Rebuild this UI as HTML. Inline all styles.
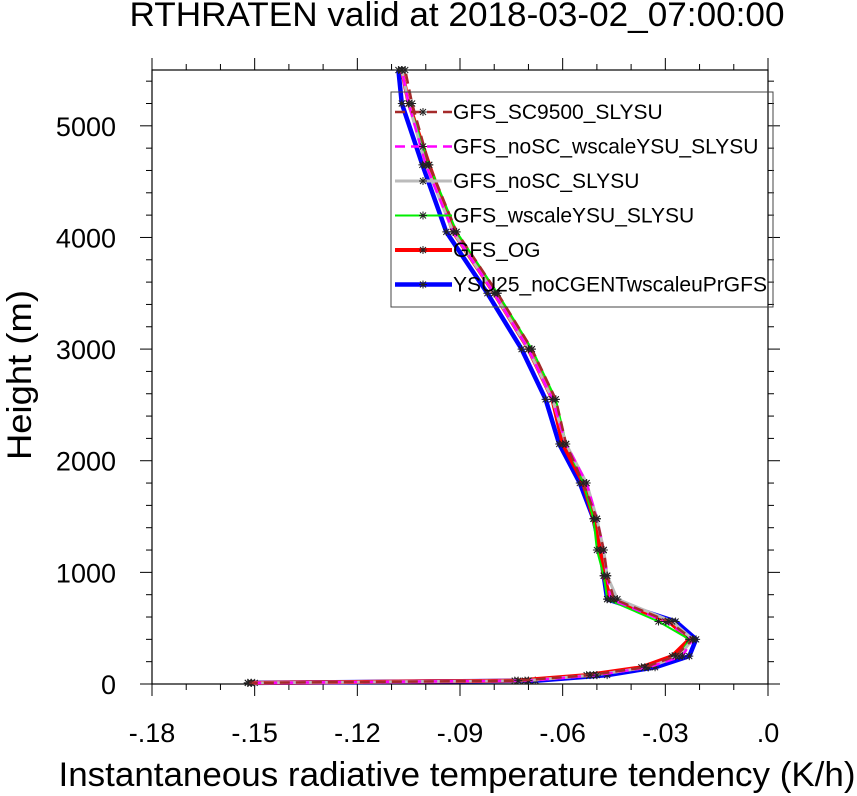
<!DOCTYPE html>
<html><head><meta charset="utf-8"><style>
body{margin:0;background:#fff;}
svg{display:block;font-family:"Liberation Sans",sans-serif;}
</style></head><body>
<svg id="chart" width="857" height="796" viewBox="0 0 857 796">
<text x="457" y="26" font-size="34" text-anchor="middle" textLength="655" lengthAdjust="spacingAndGlyphs">RTHRATEN valid at 2018-03-02_07:00:00</text>
<text x="457" y="786" font-size="34" text-anchor="middle" textLength="797" lengthAdjust="spacingAndGlyphs">Instantaneous radiative temperature tendency (K/h)</text>
<text transform="translate(31,375) rotate(-90)" font-size="34" text-anchor="middle" textLength="170" lengthAdjust="spacingAndGlyphs">Height (m)</text>
<g id="axes"></g>
<g id="series"></g>
<g id="legend"></g>
</svg>
<script>
const heights=[10,30,80,150,250,400,560,760,970,1200,1480,1800,2150,2550,3000,3500,4050,4650,5200,5500];
const xTicks=[-0.18,-0.15,-0.12,-0.09,-0.06,-0.03,0];
const xTickLabels=["-.18","-.15","-.12","-.09","-.06","-.03",".0"];
const yTicks=[0,1000,2000,3000,4000,5000];
const yTickLabels=["0","1000","2000","3000","4000","5000"];
const seriesNames=["YSU25_noCGENTwscaleuPrGFS","GFS_OG","GFS_wscaleYSU_SLYSU","GFS_noSC_SLYSU","GFS_noSC_wscaleYSU_SLYSU","GFS_SC9500_SLYSU"];
const sBlue=[-0.150,-0.068,-0.047,-0.033,-0.023,-0.021,-0.027,-0.047,-0.048,-0.049,-0.051,-0.055,-0.061,-0.065,-0.072,-0.082,-0.094,-0.101,-0.107,-0.108];
const sRed=[-0.152,-0.074,-0.053,-0.037,-0.028,-0.023,-0.029,-0.046,-0.048,-0.049,-0.051,-0.054,-0.060,-0.063,-0.070,-0.080,-0.092,-0.099,-0.105,-0.107];
const sGreen=[-0.151,-0.070,-0.050,-0.035,-0.026,-0.023,-0.032,-0.047,-0.048,-0.050,-0.051,-0.054,-0.059,-0.062,-0.069,-0.079,-0.091,-0.099,-0.105,-0.107];
const sGray=[-0.151,-0.071,-0.051,-0.035,-0.026,-0.022,-0.028,-0.044,-0.047,-0.048,-0.050,-0.053,-0.059,-0.063,-0.070,-0.080,-0.092,-0.100,-0.105,-0.107];
const sMagenta=[-0.151,-0.070,-0.050,-0.035,-0.025,-0.022,-0.030,-0.046,-0.047,-0.048,-0.050,-0.053,-0.059,-0.063,-0.070,-0.080,-0.092,-0.100,-0.105,-0.107];
const sBrown=[-0.152,-0.073,-0.052,-0.036,-0.027,-0.022,-0.029,-0.045,-0.047,-0.048,-0.050,-0.054,-0.059,-0.062,-0.069,-0.079,-0.091,-0.099,-0.104,-0.106];
const allSeries=[sBlue,sRed,sGreen,sGray,sMagenta,sBrown];
const styles=[{c:"#0000ff",w:4.5,d:""},{c:"#ff0000",w:4,d:""},{c:"#00ee00",w:2,d:""},{c:"#bbbbbb",w:3,d:""},{c:"#ff00ff",w:2.5,d:"10,6"},{c:"#a52a2a",w:2.5,d:"10,6"}];
const X0=152,X1=768,Y0=684,Y1=70,xmin=-0.18,xmax=0,ymin=0,ymax=5500;
const sx=v=>X0+(v-xmin)/(xmax-xmin)*(X1-X0);
const sy=v=>Y0-(v-ymin)/(ymax-ymin)*(Y0-Y1);
const NS="http://www.w3.org/2000/svg";
function mk(t,a,p){const e=document.createElementNS(NS,t);for(const k in a)e.setAttribute(k,a[k]);p.appendChild(e);return e;}
const ax=document.getElementById("axes");
const fr=mk("rect",{x:X0,y:Y1,width:X1-X0,height:Y0-Y1,fill:"none",stroke:"#000","stroke-width":1.2},ax);


for(let v=-0.18;v<=0.0001;v+=0.01){const x=sx(v);const maj=Math.abs(Math.round(v*100)%3)===0;const L=maj?12:6;
mk("line",{x1:x,y1:Y0,x2:x,y2:Y0+L,stroke:"#000"},ax);mk("line",{x1:x,y1:Y1,x2:x,y2:Y1-L,stroke:"#000"},ax);}
for(let v=0;v<=5500;v+=200){const y=sy(v);const maj=v%1000===0;const L=maj?12:6;
mk("line",{x1:X0,y1:y,x2:X0-L,y2:y,stroke:"#000"},ax);mk("line",{x1:X1,y1:y,x2:X1+L,y2:y,stroke:"#000"},ax);}
xTicks.forEach((v,i)=>{const t=mk("text",{x:sx(v),y:Y0+58,"font-size":27,"text-anchor":"middle"},ax);t.textContent=xTickLabels[i];

});
yTicks.forEach((v,i)=>{const t=mk("text",{x:X0-36,y:sy(v)+10,"font-size":27,"text-anchor":"end"},ax);t.textContent=yTickLabels[i];

});
const sg=document.getElementById("series");
function star(g,x,y){const r=4;mk("path",{d:`M${x-r},${y}H${x+r}M${x},${y-r}V${y+r}M${x-3},${y-3}L${x+3},${y+3}M${x-3},${y+3}L${x+3},${y-3}`,stroke:"#222","stroke-width":1},g);}
allSeries.forEach((s,i)=>{const st=styles[i];
const g=mk("g",{},sg);


const pts=s.map((v,j)=>sx(v).toFixed(1)+","+sy(heights[j]).toFixed(1)).join(" ");
mk("polyline",{points:pts,fill:"none",stroke:st.c,"stroke-width":st.w,"stroke-dasharray":st.d,"stroke-linejoin":"round"},g);
s.forEach((v,j)=>star(g,sx(v),sy(heights[j])));});
const lg=document.getElementById("legend");
mk("rect",{x:391,y:92,width:382,height:215,fill:"none",stroke:"#444","stroke-width":1},lg);
const order=[5,4,3,2,1,0];
order.forEach((si,k)=>{const y=112+k*34.5;const st=styles[si];
const e=mk("g",{},lg);


mk("line",{x1:395,y1:y,x2:452,y2:y,stroke:st.c,"stroke-width":st.w,"stroke-dasharray":st.d},e);
star(e,423,y);
const t=mk("text",{x:453,y:y+7,"font-size":21},e);t.textContent=seriesNames[si];});
</script>
</body></html>
